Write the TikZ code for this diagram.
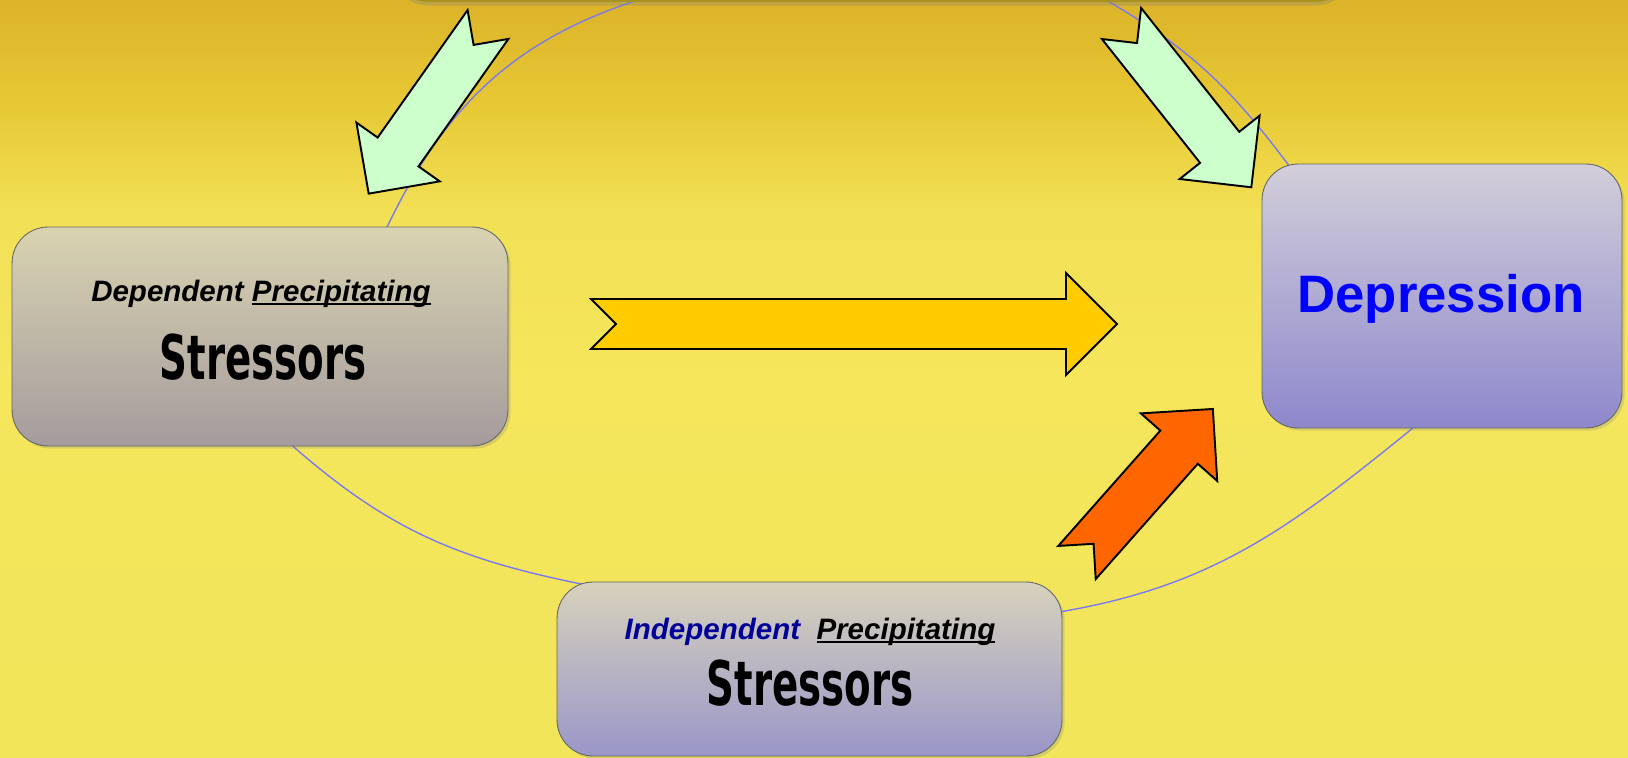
\documentclass[tikz,border=0pt]{standalone}
\usepackage{fontspec}
\setmainfont{Liberation Sans}
\newfontfamily\stressfont[FakeStretch=0.63]{DejaVu Sans}
\usetikzlibrary{shadows}

\definecolor{paperlow}{HTML}{F1E55A}
\definecolor{papermid}{HTML}{F5E65C}
\definecolor{paperlight}{HTML}{F2E055}
\definecolor{paperwarm}{HTML}{E6C733}
\definecolor{papertop}{HTML}{DCB329}
\definecolor{loopblue}{HTML}{7A7AEE}
\definecolor{sourcebox}{HTML}{A8931F}
\definecolor{depTop}{HTML}{D9D3B1}
\definecolor{depBottom}{HTML}{A59B9D}
\definecolor{indTop}{HTML}{D7D2BC}
\definecolor{indBottom}{HTML}{9A96C8}
\definecolor{moodTop}{HTML}{D2CED9}
\definecolor{moodBottom}{HTML}{8E88CC}
\definecolor{inblue}{HTML}{000099}
\definecolor{arrowgreen}{HTML}{CCFFCC}
\definecolor{arrowyellow}{HTML}{FFCC00}
\definecolor{arroworange}{HTML}{FF6600}

% the picture covers 25bp to 75bp of the shading
\pgfdeclareverticalshading{paper}{100bp}{color(0bp)=(paperlow); color(25bp)=(paperlow); color(50bp)=(papermid); color(61bp)=(paperlight); color(68.5bp)=(paperwarm); color(75bp)=(papertop); color(100bp)=(papertop)}

\newsavebox\wordbox
\newcommand{\underword}[1]{\sbox\wordbox{#1}\rlap{\rule[-2.4pt]{\wd\wordbox}{1.1pt}}\usebox\wordbox}

% block arrow with notched tail: fill, tail, angle, length
\newcommand{\notcharrow}[4]{%
    \begin{scope}[shift={#2}, rotate=#3]
        \draw[blockarrow, fill=#1] (0,25) -- (#4-51,25) -- (#4-51,51) -- (#4,0)
            -- (#4-51,-51) -- (#4-51,-25) -- (0,-25) -- (25,0) -- cycle;
    \end{scope}}

\begin{document}
\begin{tikzpicture}[
        x=0.02cm, y=-0.02cm,
        stressbox/.style 2 args={rectangle, rounded corners=0.72cm, draw=black!60, line width=0.5pt,
            top color=#1, bottom color=#2,
            drop shadow={opacity=0.25, shadow xshift=1.5pt, shadow yshift=-1.5pt}},
        heading/.style={anchor=base, font=\fontsize{16.8}{20}\selectfont\bfseries\itshape},
        bigword/.style={anchor=base, font=\stressfont\bfseries\fontsize{35}{40}\selectfont},
        blockarrow/.style={draw=black, line width=1.1pt, line join=miter},
        loopline/.style={draw=loopblue, line width=0.8pt}
    ]

    % Paper background
    \useasboundingbox (0,0) rectangle (1628,757);
    \shade[shading=paper] (0,0) rectangle (1628,757);

    % Cycle line
    \coordinate (c1) at (870,-38);
    \coordinate (c2) at (1106,0);
    \coordinate (c3) at (1287,163);
    \coordinate (c4) at (1408,432);
    \coordinate (c5) at (1065,611);
    \coordinate (c6) at (567,581);
    \coordinate (c7) at (295,448);
    \coordinate (c8) at (389,223);
    \coordinate (c9) at (638,0);
    \draw[loopline] (c1) to[out=0, in=150] (c2) to[out=-30, in=127] (c3)
        to[out=-53, in=39] (c4) to[out=-141, in=10] (c5) to[out=-170, in=-12] (c6)
        to[out=168, in=-41] (c7) to[out=139, in=-116] (c8) to[out=64, in=-162] (c9)
        to[out=18, in=180] (c1);

    % Box above the page
    \node[rectangle, rounded corners=0.72cm, fill=sourcebox, minimum width=19.2cm, minimum height=2cm,
        drop shadow={opacity=0.3, shadow xshift=0pt, shadow yshift=-2pt}] (source) at (872,-48) {};

    % Stressor boxes
    \node[stressbox={depTop}{depBottom}, minimum width=9.92cm, minimum height=4.38cm] (dep) at (260,336.5) {};
    \node[stressbox={indTop}{indBottom}, minimum width=10.1cm, minimum height=3.48cm] (ind) at (809.5,669) {};
    \node[stressbox={moodTop}{moodBottom}, minimum width=7.2cm, minimum height=5.28cm] (mood) at (1442,296) {};

    % Texts
    \node[heading] (dep-title) at (261,301) {Dependent \underword{Precipitating}};
    \node[bigword] (dep-word) at (263,379) {Stressors};
    \node[heading] (ind-title) at (810,639) {\textcolor{inblue}{Independent}\ \ \underword{Precipitating}};
    \node[bigword] (ind-word) at (810,705) {Stressors};
    \node[anchor=base, text=blue, font=\fontsize{30}{36}\selectfont\bfseries] (mood-word) at (1441,312) {Depression};

    % Block arrows
    \notcharrow{arrowgreen}{(488,24.5)}{-125.2}{207}
    \notcharrow{arrowgreen}{(1121.5,23.5)}{-51.6}{209}
    \notcharrow{arrowyellow}{(591,324)}{0}{526}
    \notcharrow{arroworange}{(1077,562.5)}{48.5}{205}

\end{tikzpicture}
\end{document}
